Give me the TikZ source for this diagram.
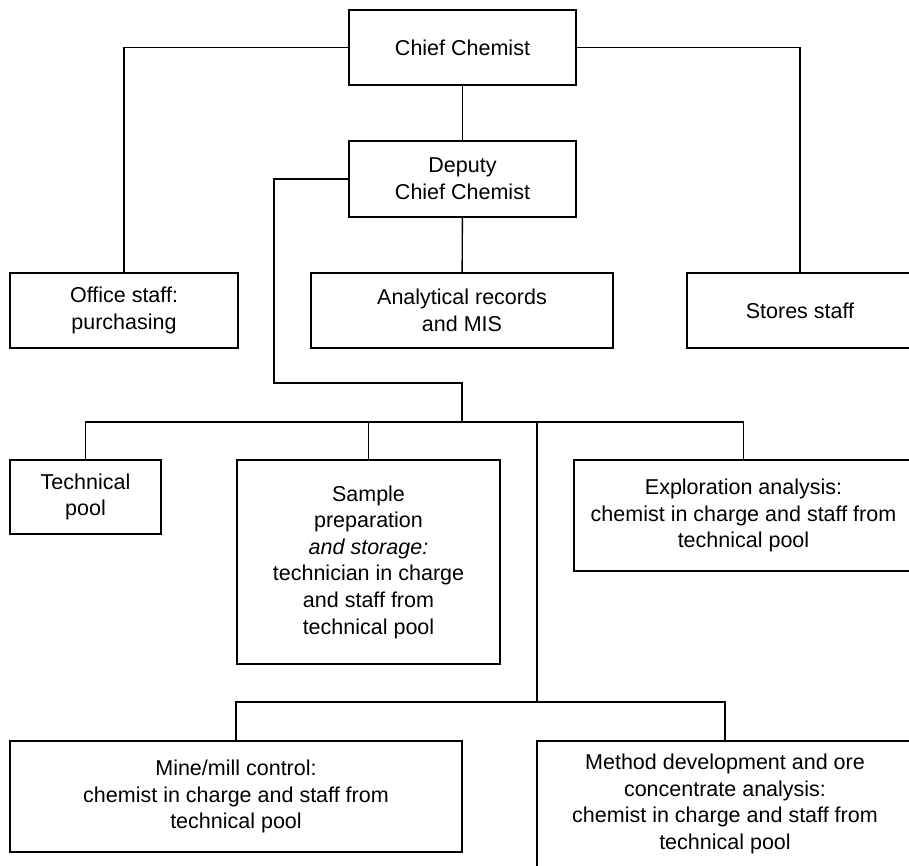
\documentclass[tikz,border=0pt]{standalone}
\usepackage{fontspec}
\setmainfont{Liberation Sans}
\begin{document}
\begin{tikzpicture}[x=1pt, y=-1pt]
            \tikzstyle{post}=[draw, line width=1.5pt, align=center, inner sep=0pt, font=\fontsize{21.5}{26.6}\selectfont]
            \tikzstyle{link}=[line width=1.4pt]
            \useasboundingbox (0, 0) rectangle (909, 865);
            % top level
            \node [post, minimum width=227, minimum height=75] (chief) at (462.5, 47.5) {Chief Chemist};
            \node [post, minimum width=227, minimum height=76] (deputy) at (462.5, 179) {Deputy\\Chief Chemist};
            \node [post, minimum width=228, minimum height=75] (office) at (124, 310.5) {Office staff:\\purchasing};
            \node [post, minimum width=302, minimum height=75] (records) at (462, 310.5) {Analytical records\\and MIS};
            \node [post, minimum width=226, minimum height=75] (stores) at (800, 310.5) {Stores staff};
            % laboratory sections
            \node [post, minimum width=151, minimum height=74] (pool) at (85.5, 497) {Technical\\pool};
            \node [post, minimum width=263, minimum height=204] (sample) at (368.5, 562) {Sample\\preparation\\\textit{and storage:}\\technician in charge\\and staff from\\technical pool};
            \node [post, minimum width=339, minimum height=111] (explore) at (743.5, 515.5) {Exploration analysis:\\chemist in charge and staff from\\technical pool};
            \node [post, minimum width=452, minimum height=111] (mine) at (236, 796.5) {Mine/mill control:\\chemist in charge and staff from\\technical pool};
            \node [post, minimum width=376, minimum height=126] (method) at (725, 804) {Method development and ore\\concentrate analysis:\\chemist in charge and staff from\\technical pool};
            % connectors
            \coordinate (bend) at (274, 383);
            \coordinate (split) at (462, 422);
            \coordinate (drop) at (537, 702);
            \draw [link] (chief.west) -| (office.north);
            \draw [link] (chief.east) -| (stores.north);
            \draw [link] (chief) -- (deputy);
            \draw [link] (deputy) -- (records);
            \draw [link] (deputy.west) -| (bend) -| (split);
            \draw [link] (pool.north) -- (pool.north |- split) -- (split -| explore.north) -- (explore.north);
            \draw [link] (sample.north) -- (sample.north |- split);
            \draw [link] (drop |- split) -- (drop);
            \draw [link] (mine.north) -- (mine.north |- drop) -- (drop -| method.north) -- (method.north);
        \end{tikzpicture}
\end{document}
